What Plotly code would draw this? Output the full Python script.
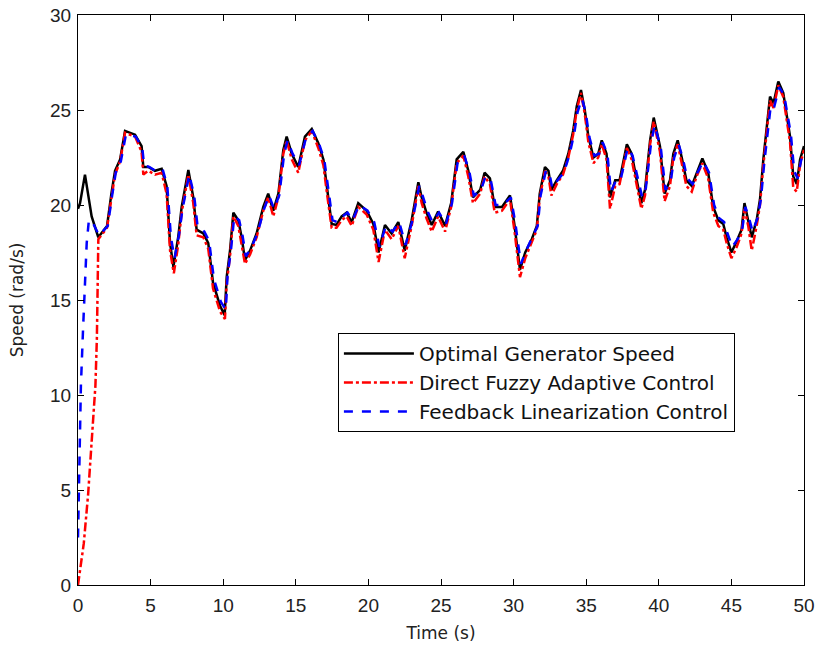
import plotly.graph_objects as go

# Time grid (s) for the tracked part of the response
time_s = [0.0, 0.14, 0.48, 0.94, 1.4, 2.0, 2.3, 2.55, 2.9, 3.24, 3.93, 4.38, 4.5, 4.84, 5.3,
          5.76, 6.1, 6.34, 6.57, 6.9, 7.14, 7.6, 7.94, 8.17, 8.63, 8.97, 9.3, 9.78, 10.1,
          10.24, 10.47, 10.7, 11.04, 11.27, 11.5, 11.85, 12.3, 12.76, 13.1, 13.45, 13.8,
          14.14, 14.37, 14.72, 15.17, 15.63, 16.1, 16.55, 16.9, 17.13, 17.47, 17.8, 18.16,
          18.5, 18.85, 19.3, 19.88, 20.34, 20.7, 21.14, 21.6, 22.06, 22.5, 22.98, 23.44,
          23.67, 24.0, 24.36, 24.8, 25.28, 25.7, 26.08, 26.54, 26.88, 27.2, 27.7, 28.0,
          28.37, 28.7, 29.2, 29.75, 30.05, 30.44, 30.8, 31.25, 31.6, 31.8, 32.16, 32.4,
          32.6, 32.97, 33.4, 33.77, 34.1, 34.35, 34.64, 34.9, 35.15, 35.5, 35.83, 36.07,
          36.4, 36.64, 37.0, 37.3, 37.8, 38.13, 38.48, 38.8, 39.05, 39.4, 39.65, 40.08,
          40.4, 40.77, 41.0, 41.3, 41.58, 41.9, 42.27, 42.6, 43.0, 43.4, 43.75, 44.1,
          44.44, 44.67, 45.0, 45.37, 45.7, 45.9, 46.16, 46.4, 46.74, 46.97, 47.2, 47.43,
          47.66, 47.9, 48.23, 48.57, 48.8, 49.04, 49.26, 49.5, 49.73, 50.0]

optimal_speed = [19.8, 20.1, 21.6, 19.4, 18.3, 18.9, 20.6, 21.8, 22.4, 23.9, 23.7, 23.1, 22.0,
                 22.0, 21.8, 21.9, 21.0, 18.0, 16.75, 18.3, 19.9, 21.85, 20.4, 18.7, 18.5,
                 18.0, 15.9, 14.7, 14.2, 16.2, 17.6, 19.6, 19.2, 18.3, 17.1, 17.6, 18.5, 19.9,
                 20.6, 19.7, 20.6, 22.9, 23.6, 22.7, 22.0, 23.6, 24.0, 23.25, 22.4, 21.0, 19.0,
                 18.95, 19.4, 19.6, 19.1, 20.1, 19.7, 19.0, 17.5, 18.95, 18.5, 19.1, 17.6, 19.2,
                 21.2, 20.4, 19.6, 18.95, 19.65, 18.9, 20.1, 22.4, 22.8, 21.8, 20.4, 20.8, 21.7,
                 21.4, 19.9, 19.9, 20.5, 19.0, 16.6, 17.5, 18.2, 18.9, 20.6, 22.0, 21.8, 20.8,
                 21.3, 21.8, 22.7, 23.9, 25.2, 26.05, 25.0, 23.6, 22.5, 22.7, 23.4, 22.7, 20.4,
                 21.3, 21.3, 23.2, 22.7, 21.3, 20.1, 20.8, 23.4, 24.6, 23.1, 20.6, 21.3, 22.7,
                 23.4, 22.5, 21.3, 21.0, 21.7, 22.45, 21.7, 19.9, 19.2, 19.0, 18.3, 17.5, 18.1,
                 18.7, 20.1, 19.2, 18.3, 19.2, 20.3, 22.4, 24.1, 25.7, 25.35, 26.5, 25.9, 24.8,
                 23.6, 21.5, 21.1, 22.4, 23.1]

# Direct fuzzy adaptive control: start-up transient then tracking
fuzzy_time = [0.0, 0.2, 0.4, 0.7, 1.0, 1.2, 1.3, 1.35, 1.4, 2.0, 2.3, 2.55, 2.9, 3.24, 3.93,
              4.38, 4.5, 4.84, 5.3, 5.76, 6.1, 6.34, 6.6, 6.9, 7.14, 7.6, 7.94, 8.17, 8.63,
              8.97, 9.3, 9.78, 10.12, 10.24, 10.47, 10.7, 11.04, 11.27, 11.5, 11.85, 12.3,
              12.76, 13.1, 13.45, 13.8, 14.14, 14.37, 14.72, 15.17, 15.63, 16.1, 16.55, 16.9,
              17.13, 17.47, 17.8, 18.16, 18.5, 18.85, 19.3, 19.88, 20.34, 20.7, 21.14, 21.6,
              22.06, 22.5, 22.98, 23.44, 23.67, 24.0, 24.36, 24.8, 25.28, 25.7, 26.08, 26.54,
              26.88, 27.2, 27.7, 28.0, 28.37, 28.7, 29.2, 29.75, 30.05, 30.44, 30.8, 31.25,
              31.6, 31.8, 32.16, 32.4, 32.6, 32.97, 33.4, 33.77, 34.1, 34.35, 34.64, 34.9,
              35.15, 35.5, 35.83, 36.07, 36.4, 36.64, 37.0, 37.3, 37.8, 38.13, 38.48, 38.8,
              39.05, 39.4, 39.65, 40.08, 40.4, 40.77, 41.0, 41.3, 41.58, 41.9, 42.27, 42.6,
              43.0, 43.4, 43.75, 44.1, 44.44, 44.67, 45.0, 45.37, 45.7, 45.9, 46.16, 46.4,
              46.74, 46.97, 47.2, 47.43, 47.66, 47.9, 48.23, 48.57, 48.8, 49.04, 49.26, 49.5,
              49.73, 50.0]
fuzzy_speed = [0.0, 1.0, 2.2, 4.8, 8.2, 10.5, 13.0, 16.0, 18.2, 18.8, 20.4, 21.6, 22.3, 23.8,
               23.6, 22.8, 21.6, 21.8, 21.6, 21.7, 20.6, 17.6, 16.4, 17.9, 19.6, 21.6, 20.1,
               18.4, 18.3, 17.7, 15.6, 14.4, 14.0, 15.9, 17.3, 19.4, 18.9, 18.0, 16.9, 17.4,
               18.3, 19.7, 20.4, 19.4, 20.4, 22.7, 23.4, 22.4, 21.7, 23.4, 23.9, 23.0, 22.1,
               20.7, 18.8, 18.8, 19.2, 19.4, 18.9, 19.9, 19.5, 18.7, 17.0, 18.7, 18.2, 18.9,
               17.2, 18.9, 21.0, 20.1, 19.3, 18.6, 19.4, 18.6, 19.9, 22.2, 22.6, 21.5, 20.1,
               20.6, 21.5, 21.1, 19.6, 19.7, 20.3, 18.7, 16.2, 17.2, 18.0, 18.7, 20.4, 21.8,
               21.5, 20.5, 21.1, 21.6, 22.5, 23.7, 25.0, 25.9, 24.8, 23.3, 22.2, 22.5, 23.2,
               22.4, 19.8, 21.0, 21.1, 23.0, 22.4, 21.0, 19.8, 20.5, 23.2, 24.4, 22.8, 20.2,
               21.0, 22.5, 23.2, 22.2, 21.0, 20.7, 21.5, 22.2, 21.4, 19.6, 18.9, 18.7, 18.0,
               17.2, 17.8, 18.5, 19.8, 18.9, 17.6, 18.9, 20.0, 22.1, 23.9, 25.5, 25.1, 26.3,
               25.7, 24.5, 23.3, 20.9, 20.7, 22.1, 22.9]

# Feedback linearization control: start-up transient then tracking
feedback_time = [0.0, 0.05, 0.1, 0.2, 0.35, 0.5, 0.6, 0.75, 1.0, 1.45, 2.05, 2.35, 2.6, 2.95,
                 3.3, 3.98, 4.43, 4.55, 4.9, 5.35, 5.82, 6.15, 6.4, 6.65, 6.95, 7.2, 7.66,
                 8.0, 8.23, 8.7, 9.03, 9.36, 9.84, 10.18, 10.3, 10.53, 10.76, 11.1, 11.33,
                 11.56, 11.9, 12.36, 12.82, 13.16, 13.5, 13.86, 14.2, 14.43, 14.78, 15.23,
                 15.69, 16.16, 16.61, 16.96, 17.19, 17.53, 17.86, 18.22, 18.56, 18.91, 19.36,
                 19.94, 20.4, 20.76, 21.2, 21.66, 22.12, 22.56, 23.04, 23.5, 23.73, 24.06,
                 24.42, 24.86, 25.34, 25.76, 26.14, 26.6, 26.94, 27.26, 27.76, 28.06, 28.43,
                 28.76, 29.26, 29.81, 30.11, 30.5, 30.86, 31.31, 31.66, 31.86, 32.22, 32.46,
                 32.66, 33.03, 33.46, 33.83, 34.16, 34.41, 34.7, 34.96, 35.21, 35.56, 35.89,
                 36.13, 36.46, 36.7, 37.06, 37.36, 37.86, 38.19, 38.54, 38.86, 39.11, 39.46,
                 39.71, 40.14, 40.46, 40.83, 41.06, 41.36, 41.64, 41.96, 42.33, 42.66, 43.06,
                 43.46, 43.81, 44.16, 44.5, 44.73, 45.06, 45.43, 45.76, 45.96, 46.22, 46.46,
                 46.8, 47.03, 47.26, 47.49, 47.72, 47.96, 48.29, 48.63, 48.86, 49.1, 49.32,
                 49.56, 49.79, 50.0]
feedback_speed = [2.5, 5.0, 7.5, 10.5, 13.5, 16.0, 18.0, 19.2, 19.1, 18.4, 18.9, 20.5, 21.7,
                  22.3, 23.7, 23.6, 23.0, 22.1, 22.0, 21.8, 21.9, 21.0, 18.3, 17.2, 18.4, 19.8,
                  21.6, 20.5, 18.9, 18.6, 18.1, 16.1, 14.9, 14.5, 16.3, 17.6, 19.4, 19.2, 18.4,
                  17.3, 17.7, 18.5, 19.8, 20.5, 19.8, 20.5, 22.7, 23.4, 22.7, 22.1, 23.5, 23.9,
                  23.2, 22.4, 21.1, 19.2, 19.1, 19.4, 19.6, 19.2, 20.0, 19.7, 19.1, 17.8, 18.9,
                  18.6, 19.1, 17.9, 19.2, 21.0, 20.5, 19.7, 19.1, 19.6, 19.0, 20.1, 22.2, 22.6,
                  21.8, 20.5, 20.8, 21.5, 21.3, 20.0, 20.0, 20.4, 19.1, 16.9, 17.6, 18.3, 18.9,
                  20.5, 21.8, 21.7, 20.9, 21.3, 21.7, 22.6, 23.7, 24.9, 25.6, 24.9, 23.6, 22.6,
                  22.7, 23.3, 22.7, 20.7, 21.3, 21.3, 23.0, 22.6, 21.4, 20.4, 20.9, 23.2, 24.2,
                  23.0, 20.8, 21.3, 22.5, 23.2, 22.5, 21.4, 21.1, 21.7, 22.3, 21.7, 20.0, 19.3,
                  19.1, 18.5, 17.8, 18.2, 18.8, 19.9, 19.3, 18.6, 19.3, 20.3, 22.2, 23.9, 25.3,
                  25.2, 26.2, 25.8, 24.8, 23.7, 21.8, 21.4, 22.3, 22.9]

x_ticks = [0, 5, 10, 15, 20, 25, 30, 35, 40, 45, 50]
y_ticks = [0, 5, 10, 15, 20, 25, 30]

TICK_FONT = "Arial, Liberation Sans, sans-serif"
TEXT_FONT = "DejaVu Sans, Verdana, sans-serif"

fig = go.Figure()
fig.add_trace(go.Scatter(x=time_s, y=optimal_speed, mode="lines",
                         name="Optimal Generator Speed",
                         line=dict(color="#000000", width=2.5)))
fig.add_trace(go.Scatter(x=fuzzy_time, y=fuzzy_speed, mode="lines",
                         name="Direct Fuzzy Adaptive Control",
                         line=dict(color="#ff0000", width=2.5, dash="dashdot")))
fig.add_trace(go.Scatter(x=feedback_time, y=feedback_speed, mode="lines",
                         name="Feedback Linearization Control",
                         line=dict(color="#0000ff", width=2.5, dash="dash")))

axis_common = dict(showline=True, linecolor="#000000", linewidth=1, mirror="ticks",
                   ticks="inside", ticklen=6, tickcolor="#000000", showgrid=False,
                   zeroline=False, automargin=False,
                   tickfont=dict(family=TICK_FONT, size=19, color="#222222"))

fig.update_xaxes(range=[0, 50], tickvals=x_ticks, ticktext=[str(v) for v in x_ticks],
                 ticklabelstandoff=3,
                 title=dict(text="Time (s)", font=dict(family=TEXT_FONT, size=17, color="#222222"),
                            standoff=12),
                 **axis_common)
fig.update_yaxes(range=[0, 30], tickvals=y_ticks, ticktext=[str(v) for v in y_ticks],
                 ticklabelstandoff=2,
                 title=dict(text="Speed (rad/s)", font=dict(family=TEXT_FONT, size=17, color="#222222"),
                            standoff=22),
                 **axis_common)

fig.update_layout(
    width=817, height=648,
    margin=dict(l=78, r=13, t=15, b=63, autoexpand=False),
    paper_bgcolor="#ffffff", plot_bgcolor="#ffffff",
    showlegend=True,
    legend=dict(x=0.358, y=0.442, xanchor="left", yanchor="top",
                bgcolor="#ffffff", bordercolor="#000000", borderwidth=1,
                font=dict(family=TEXT_FONT, size=20, color="#111111"),
                itemwidth=70, tracegroupgap=0),
)

fig.write_html("out.html")
